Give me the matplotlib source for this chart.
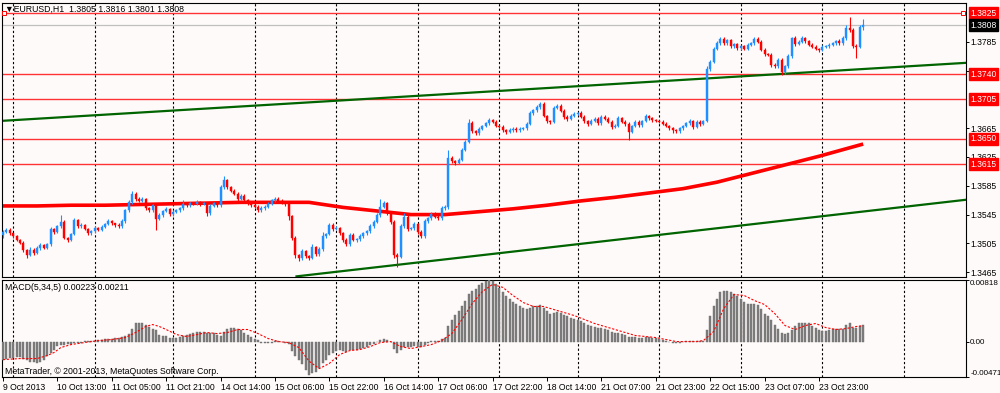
import matplotlib.pyplot as plt
import numpy as np
from matplotlib.transforms import blended_transform_factory

plt.rcParams['font.family'] = ['Liberation Sans', 'DejaVu Sans']

# EURUSD H1 closes, one per bar (bar 0 = 9 Oct 21:00)
closes = [
    1.3521, 1.3524, 1.3519, 1.3515, 1.3510, 1.3506, 1.3496, 1.3489, 1.3496, 1.3492,
    1.3499, 1.3503, 1.3499, 1.3504, 1.3525, 1.3521, 1.3529, 1.3535, 1.3513, 1.3510,
    1.3518, 1.3537, 1.3529, 1.3531, 1.3525, 1.3519, 1.3522, 1.3526, 1.3524, 1.3528,
    1.3532, 1.3536, 1.3533, 1.3531, 1.3529, 1.3536, 1.3551, 1.3562, 1.3574, 1.3567,
    1.3564, 1.3567, 1.3554, 1.3551, 1.3558, 1.3539, 1.3544, 1.3550, 1.3553, 1.3546,
    1.3549, 1.3551, 1.3554, 1.3560, 1.3558, 1.3561, 1.3560, 1.3562, 1.3560, 1.3561,
    1.3547, 1.3557, 1.3561, 1.3558, 1.3583, 1.3593, 1.3583, 1.3578, 1.3574, 1.3567,
    1.3571, 1.3565, 1.3561, 1.3558, 1.3556, 1.3551, 1.3554, 1.3556, 1.3560, 1.3565,
    1.3567, 1.3564, 1.3562, 1.3560, 1.3543, 1.3513, 1.3489, 1.3485, 1.3494, 1.3487,
    1.3485, 1.3500, 1.3490, 1.3497, 1.3515, 1.3518, 1.3531, 1.3525, 1.3526, 1.3519,
    1.3510, 1.3504, 1.3517, 1.3510, 1.3511, 1.3515, 1.3519, 1.3522, 1.3529, 1.3535,
    1.3544, 1.3556, 1.3561, 1.3547, 1.3535, 1.3489, 1.3486, 1.3529, 1.3542, 1.3525,
    1.3526, 1.3532, 1.3521, 1.3515, 1.3536, 1.3540, 1.3546, 1.3542, 1.3540, 1.3554,
    1.3556, 1.3624, 1.3619, 1.3617, 1.3621, 1.3635, 1.3646, 1.3672, 1.3661, 1.3658,
    1.3664, 1.3668, 1.3672, 1.3676, 1.3674, 1.3668, 1.3667, 1.3662, 1.3660, 1.3662,
    1.3664, 1.3662, 1.3664, 1.3665, 1.3671, 1.3686, 1.3690, 1.3694, 1.3699, 1.3682,
    1.3675, 1.3674, 1.3693, 1.3696, 1.3689, 1.3681, 1.3678, 1.3682, 1.3685, 1.3686,
    1.3681, 1.3675, 1.3671, 1.3675, 1.3678, 1.3672, 1.3681, 1.3678, 1.3674, 1.3667,
    1.3668, 1.3679, 1.3674, 1.3671, 1.3660, 1.3668, 1.3674, 1.3669, 1.3675, 1.3682,
    1.3679, 1.3676, 1.3675, 1.3674, 1.3671, 1.3668, 1.3665, 1.3662, 1.3661, 1.3665,
    1.3668, 1.3672, 1.3675, 1.3667, 1.3674, 1.3671, 1.3675, 1.3747, 1.3757, 1.3775,
    1.3783, 1.3789, 1.3783, 1.3787, 1.3779, 1.3782, 1.3776, 1.3779, 1.3775, 1.3781,
    1.3783, 1.3789, 1.3785, 1.3774, 1.3768, 1.3767, 1.3753, 1.3751, 1.3760, 1.3743,
    1.3751, 1.3765, 1.3790, 1.3782, 1.3785, 1.3790, 1.3786, 1.3781, 1.3778, 1.3775,
    1.3774, 1.3778, 1.3779, 1.3781, 1.3783, 1.3786, 1.3783, 1.3790, 1.3804, 1.3801,
    1.3779, 1.3778, 1.3805, 1.3808,
]
first_open = 1.3516

# wick lengths above / below the body, in pips
upper_wick = [
    3, 2, 2, 1, 2, 1, 2, 1, 4, 2, 3, 2, 1, 2, 3, 2, 2, 10, 3, 1,
    2, 3, 2, 2, 1, 2, 2, 3, 2, 2, 2, 3, 2, 1, 2, 3, 2, 3, 4, 2,
    2, 3, 1, 2, 2, 2, 3, 2, 2, 1, 2, 2, 2, 5, 2, 2, 2, 3, 2, 2,
    2, 3, 2, 2, 3, 5, 2, 2, 2, 3, 2, 2, 1, 2, 2, 2, 3, 2, 3, 2,
    2, 2, 2, 2, 3, 2, 2, 1, 3, 2, 2, 4, 2, 3, 6, 2, 3, 2, 3, 2,
    2, 2, 3, 2, 2, 3, 2, 2, 3, 2, 3, 10, 3, 2, 3, 2, 2, 3, 5, 2,
    2, 3, 2, 2, 3, 2, 3, 2, 2, 3, 2, 11, 3, 2, 3, 3, 3, 6, 3, 2,
    2, 2, 2, 3, 2, 2, 2, 2, 2, 3, 2, 2, 2, 2, 3, 3, 2, 3, 3, 2,
    2, 2, 3, 2, 2, 2, 2, 3, 2, 2, 3, 2, 2, 3, 2, 2, 3, 2, 2, 2,
    3, 3, 2, 2, 2, 2, 2, 3, 2, 3, 2, 2, 2, 2, 2, 2, 2, 2, 2, 2,
    2, 2, 3, 2, 2, 2, 2, 4, 3, 3, 3, 2, 3, 2, 2, 2, 2, 2, 2, 2,
    2, 3, 3, 2, 2, 2, 2, 2, 3, 2, 2, 3, 2, 3, 2, 3, 2, 2, 2, 2,
    2, 2, 2, 2, 2, 2, 3, 3, 4, 15, 3, 3, 3, 8,
]
lower_wick = [
    3, 2, 3, 2, 2, 2, 3, 4, 2, 3, 2, 3, 2, 2, 2, 3, 2, 2, 2, 3,
    2, 2, 2, 3, 2, 2, 3, 2, 2, 2, 2, 2, 2, 3, 2, 2, 2, 2, 2, 3,
    2, 2, 3, 2, 2, 15, 2, 2, 2, 3, 3, 2, 2, 2, 2, 2, 2, 2, 3, 2,
    4, 2, 2, 2, 2, 2, 3, 2, 2, 3, 2, 2, 2, 3, 2, 3, 2, 2, 2, 2,
    2, 2, 2, 3, 6, 3, 4, 5, 3, 3, 3, 2, 3, 2, 2, 2, 2, 3, 2, 2,
    3, 3, 2, 2, 3, 2, 2, 2, 2, 2, 2, 2, 2, 3, 3, 4, 14, 2, 2, 3,
    2, 2, 3, 3, 2, 2, 2, 2, 3, 2, 2, 3, 2, 3, 2, 2, 2, 2, 3, 3,
    2, 2, 2, 2, 2, 2, 2, 2, 3, 2, 2, 2, 2, 2, 2, 2, 2, 2, 2, 2,
    3, 3, 2, 2, 2, 3, 3, 2, 2, 2, 2, 3, 3, 2, 2, 3, 2, 2, 2, 3,
    2, 2, 2, 3, 11, 2, 2, 3, 2, 2, 2, 2, 2, 2, 2, 2, 2, 3, 2, 2,
    2, 2, 2, 3, 2, 3, 2, 2, 3, 2, 2, 2, 2, 2, 2, 2, 2, 2, 2, 2,
    2, 2, 2, 2, 3, 2, 3, 3, 2, 4, 3, 2, 2, 3, 2, 2, 2, 2, 2, 2,
    3, 2, 2, 2, 2, 2, 2, 2, 2, 2, 3, 15, 2, 4,
]

# moving average (thick red), sampled bars
ma_bars = [0, 10, 20, 30, 40, 50, 60, 70, 80, 90, 100, 110, 120, 130, 140,
           150, 160, 170, 180, 190, 200, 210, 220, 230, 240, 253]
ma_values = [1.3557, 1.3557, 1.3558, 1.3558, 1.3559, 1.3560, 1.3561, 1.3562,
             1.3562, 1.3562, 1.3555, 1.3550, 1.3545, 1.3545, 1.3549, 1.3553,
             1.3558, 1.3564, 1.3569, 1.3575, 1.3581, 1.3590, 1.3602, 1.3614,
             1.3626, 1.3643]

# horizontal levels and trend lines
levels = [1.3825, 1.3740, 1.3705, 1.3650, 1.3615]
bid = 1.3808
upper_trend_bars = [-1, 284]
upper_trend_prices = [1.3675, 1.3756]
lower_trend_bars = [86, 284]
lower_trend_prices = [1.3459, 1.3566]

price_ticks = [1.3465, 1.3505, 1.3545, 1.3585, 1.3625, 1.3665, 1.3745, 1.3785]

# MACD(5,34,5)
macd_main = [
    -0.00240, -0.00226, -0.00213, -0.00213, -0.00200, -0.00200, -0.00226, -0.00240, -0.00266, -0.00266,
    -0.00279, -0.00266, -0.00240, -0.00186, -0.00146, -0.00106, -0.00053, -0.00040, -0.00040, -0.00027,
    -0.00027, -0.00013, -0.00013, -0.00013, 0.00007, 0.00013, 0.00013, 0.00013, 0.00020, 0.00027,
    0.00033, 0.00040, 0.00040, 0.00053, 0.00053, 0.00067, 0.00080, 0.00106, 0.00173, 0.00240,
    0.00253, 0.00253, 0.00226, 0.00200, 0.00173, 0.00160, 0.00093, 0.00080, 0.00080, 0.00053,
    0.00053, 0.00053, 0.00067, 0.00080, 0.00093, 0.00106, 0.00120, 0.00133, 0.00133, 0.00133,
    0.00120, 0.00120, 0.00120, 0.00093, 0.00080, 0.00133, 0.00173, 0.00186, 0.00186, 0.00173,
    0.00160, 0.00120, 0.00093, 0.00067, 0.00040, 0.00027, -0.00013, -0.00013, -0.00013, -0.00013,
    0.00007, 0.00007, -0.00007, -0.00013, -0.00027, -0.00120, -0.00186, -0.00240, -0.00293, -0.00380,
    -0.00450, -0.00420, -0.00400, -0.00350, -0.00290, -0.00240, -0.00180, -0.00150, -0.00120, -0.00106,
    -0.00120, -0.00133, -0.00106, -0.00106, -0.00106, -0.00093, -0.00080, -0.00067, -0.00040, -0.00027,
    0.00000, 0.00027, 0.00040, 0.00027, 0.00000, -0.00093, -0.00146, -0.00106, -0.00067, -0.00067,
    -0.00067, -0.00053, -0.00067, -0.00067, -0.00040, -0.00013, 0.00013, 0.00013, 0.00013, 0.00040,
    0.00053, 0.00213, 0.00293, 0.00359, 0.00412, 0.00479, 0.00545, 0.00638, 0.00678, 0.00705,
    0.00750, 0.00780, 0.00805, 0.00818, 0.00800, 0.00760, 0.00710, 0.00660, 0.00612, 0.00572,
    0.00532, 0.00505, 0.00479, 0.00452, 0.00439, 0.00452, 0.00466, 0.00479, 0.00492, 0.00452,
    0.00412, 0.00372, 0.00386, 0.00399, 0.00386, 0.00359, 0.00333, 0.00319, 0.00306, 0.00293,
    0.00279, 0.00253, 0.00226, 0.00213, 0.00200, 0.00186, 0.00186, 0.00173, 0.00160, 0.00133,
    0.00120, 0.00120, 0.00106, 0.00093, 0.00067, 0.00067, 0.00067, 0.00053, 0.00053, 0.00067,
    0.00067, 0.00053, 0.00053, 0.00040, 0.00027, 0.00013, 0.00000, -0.00013, -0.00013, -0.00013,
    0.00000, 0.00007, 0.00013, 0.00007, 0.00013, 0.00013, 0.00013, 0.00160, 0.00333, 0.00479,
    0.00559, 0.00652, 0.00678, 0.00678, 0.00652, 0.00638, 0.00612, 0.00572, 0.00532, 0.00505,
    0.00505, 0.00505, 0.00492, 0.00439, 0.00372, 0.00333, 0.00293, 0.00226, 0.00173, 0.00120,
    0.00106, 0.00120, 0.00160, 0.00213, 0.00240, 0.00253, 0.00253, 0.00240, 0.00213, 0.00186,
    0.00160, 0.00146, 0.00146, 0.00160, 0.00173, 0.00173, 0.00173, 0.00173, 0.00226, 0.00240,
    0.00186, 0.00186, 0.00213, 0.00223,
]
signal_bars = [0, 5, 10, 13, 15, 17, 20, 24, 28, 32, 36, 39, 42, 44, 46, 48, 51, 54, 57,
               60, 63, 66, 69, 72, 75, 78, 81, 84, 87, 90, 93, 96, 99, 102, 105, 108,
               111, 114, 117, 120, 123, 126, 129, 132, 135, 138, 141, 144, 147, 150,
               153, 156, 159, 162, 165, 168, 171, 174, 177, 180, 183, 186, 189, 192,
               195, 198, 201, 204, 206, 209, 212, 215, 218, 221, 224, 227, 230, 233,
               236, 239, 242, 245, 248, 251, 253]
signal_values = [-0.00240, -0.00226, -0.00226, -0.00186, -0.00146, -0.00080, -0.00040,
                 -0.00013, 0.00013, 0.00027, 0.00053, 0.00120, 0.00200, 0.00226, 0.00200,
                 0.00160, 0.00093, 0.00067, 0.00093, 0.00120, 0.00106, 0.00120, 0.00160,
                 0.00160, 0.00106, 0.00040, 0.00000, -0.00013, -0.00080, -0.00260,
                 -0.00360, -0.00290, -0.00173, -0.00120, -0.00106, -0.00067, -0.00013,
                 0.00000, -0.00067, -0.00093, -0.00067, -0.00040, 0.00013, 0.00106,
                 0.00293, 0.00505, 0.00665, 0.00760, 0.00720, 0.00612, 0.00519, 0.00466,
                 0.00466, 0.00426, 0.00386, 0.00346, 0.00293, 0.00240, 0.00200, 0.00160,
                 0.00120, 0.00080, 0.00067, 0.00053, 0.00027, 0.00000, 0.00000, 0.00000,
                 0.00013, 0.00133, 0.00439, 0.00625, 0.00612, 0.00545, 0.00492, 0.00372,
                 0.00213, 0.00160, 0.00213, 0.00240, 0.00186, 0.00160, 0.00173, 0.00200,
                 0.00211]

xtick_bars = [0, 16, 32, 48, 64, 80, 96, 112, 128, 144, 160, 176, 192, 208, 224, 240]
xtick_labels = ['9 Oct 2013', '10 Oct 13:00', '11 Oct 05:00', '11 Oct 21:00',
                '14 Oct 14:00', '15 Oct 06:00', '15 Oct 22:00', '16 Oct 14:00',
                '17 Oct 06:00', '17 Oct 22:00', '18 Oct 14:00', '21 Oct 07:00',
                '21 Oct 23:00', '22 Oct 15:00', '23 Oct 07:00', '23 Oct 23:00']
grid_bars = [3, 27, 50, 74, 98, 122, 146, 169, 193, 217, 241, 265]

# ---- derived candle arrays
c = np.array(closes)
o = np.concatenate([[first_open], c[:-1]])
hi = np.maximum(o, c) + np.array(upper_wick) * 0.0001
lo = np.minimum(o, c) - np.array(lower_wick) * 0.0001
idx = np.arange(len(c))
up = c >= o

bg = '#fffafa'
fig = plt.figure(figsize=(10, 3.93), dpi=100, facecolor=bg)
W, H = 1000, 393
ax = fig.add_axes([2 / W, 1 - 277 / H, 964 / W, 274 / H], facecolor=bg)
ax2 = fig.add_axes([2 / W, 1 - 377 / H, 964 / W, 97 / H], facecolor=bg, sharex=ax)

xmin, xmax = -0.29, 283.24
ax.set_xlim(xmin, xmax)
ax.set_ylim(1.34583, 1.38389)
ax2.set_ylim(-0.00471, 0.00818)

for a in (ax, ax2):
    for g in grid_bars:
        a.axvline(g, color='black', lw=0.8, ls=(0, (2, 2)), zorder=1)
    for s in a.spines.values():
        s.set_color('black')
        s.set_linewidth(0.8)

# horizontal levels
ax.axhline(bid, color='#c0c0c0', lw=0.9, zorder=1)
for lv in levels:
    ax.axhline(lv, color='#ff3333', lw=1.0, zorder=2)

# trend lines
ax.plot(upper_trend_bars, upper_trend_prices, color='#006400', lw=1.6, zorder=2,
        solid_capstyle='butt')
ax.plot(lower_trend_bars, lower_trend_prices, color='#006400', lw=1.6, zorder=2,
        solid_capstyle='butt')

# moving average
ax.plot(ma_bars, ma_values, color='#ff0000', lw=2.6, zorder=3, solid_capstyle='butt')

# candles
colors = np.where(up, '#1e90ff', '#ff0000')
ax.vlines(idx, lo, hi, colors=colors, lw=0.8, zorder=4)
body = np.maximum(np.abs(c - o), 0.00004)
ax.bar(idx, body, bottom=np.minimum(o, c), width=0.62, color=colors,
       edgecolor=colors, linewidth=0.3, zorder=5)

# anchors of the selected level
ax.plot([0.2, 282.4], [1.3825, 1.3825], ls='none', marker='s', ms=2.6,
        mfc='white', mec='red', mew=0.7, zorder=6, clip_on=False)

# price axis
ax.yaxis.tick_right()
ax.set_yticks(price_ticks)
ax.set_yticklabels(['%.4f' % p for p in price_ticks])
ax.tick_params(axis='y', labelsize=6.2, length=2, width=0.7, pad=1.5, colors='black')
ax.tick_params(axis='x', bottom=False, labelbottom=False)

tr = blended_transform_factory(ax.transAxes, ax.transData)
for lv in levels:
    ax.text(1.0045, lv, '%.4f' % lv, transform=tr, fontsize=6.2, color='white',
            va='center', ha='left', zorder=10, clip_on=False,
            bbox=dict(boxstyle='square,pad=0.18', fc='#ff0000', ec='#ff0000'))
ax.text(1.0045, bid, '%.4f' % bid, transform=tr, fontsize=6.2, color='white',
        va='center', ha='left', zorder=10, clip_on=False,
        bbox=dict(boxstyle='square,pad=0.18', fc='black', ec='black'))

# MACD panel
ax2.bar(idx, macd_main, width=0.62, color='#7f7f7f', edgecolor='#6a6a6a',
        linewidth=0.3, zorder=3)
ax2.plot(signal_bars, signal_values, color='red', lw=0.8, ls=(0, (2, 1.5)), zorder=4)
ax2.yaxis.tick_right()
ax2.set_yticks([0.00818, 0.0, -0.00471])
ax2.set_yticklabels(['0.00818', '0.00', '-0.00471'])
ax2.tick_params(axis='y', labelsize=5.8, length=2, width=0.7, pad=1)
ylabs = ax2.get_yticklabels()
ylabs[0].set_va('top')
ylabs[2].set_va('bottom')

ax2.set_xticks(xtick_bars)
ax2.set_xticklabels(xtick_labels, ha='left')
ax2.tick_params(axis='x', labelsize=6.2, length=3, width=0.7, pad=1.5)
ax2.set_xlim(xmin, xmax)

fig.text(5 / W, 1 - 9 / H, '\u25bcEURUSD,H1  1.3805 1.3816 1.3801 1.3808',
         fontsize=6.3, va='center', ha='left')
fig.text(5 / W, 1 - 287 / H, 'MACD(5,34,5) 0.00223 0.00211', fontsize=6.3,
         va='center', ha='left')
fig.text(5 / W, 1 - 371 / H, 'MetaTrader, \u00a9 2001-2013, MetaQuotes Software Corp.',
         fontsize=6.3, va='center', ha='left', zorder=10)

fig.savefig('out.png', dpi=100, facecolor=bg)
